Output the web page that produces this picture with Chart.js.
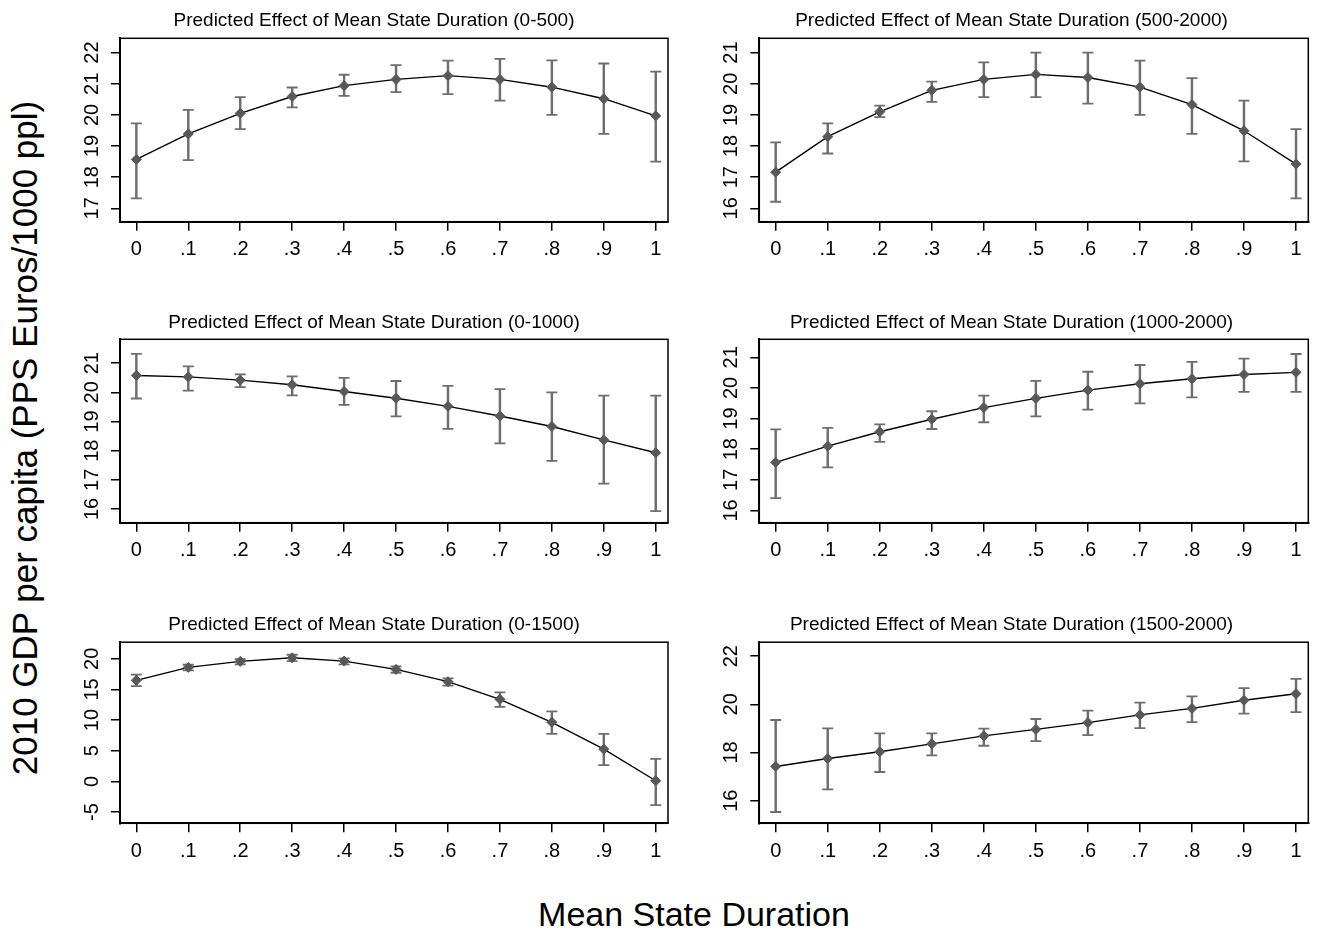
<!DOCTYPE html>
<html><head><meta charset="utf-8">
<script src="https://cdn.jsdelivr.net/npm/chart.js@4.4.1/dist/chart.umd.min.js"></script>
<style>
html,body{margin:0;padding:0;background:#fff;width:1321px;height:933px;overflow:hidden;position:relative;}
canvas{position:absolute;}
.lab{position:absolute;font-family:'Liberation Sans',Arial,sans-serif;color:#000;white-space:nowrap;line-height:1;}
#ylab{left:24px;top:438px;font-size:35px;transform:translate(-50%,-50%) rotate(-90deg);}
#xlab{left:694px;top:897px;font-size:34px;transform:translateX(-50%);}
</style></head><body>
<div class="lab" id="ylab">2010 GDP per capita (PPS Euros/1000 ppl)</div>
<div class="lab" id="xlab">Mean State Duration</div>
<script>
// ---------- data ----------
const xValues = [0, 0.1, 0.2, 0.3, 0.4, 0.5, 0.6, 0.7, 0.8, 0.9, 1];
const xTickLabels = ["0", ".1", ".2", ".3", ".4", ".5", ".6", ".7", ".8", ".9", "1"];

const title1 = "Predicted Effect of Mean State Duration (0-500)";
const est1 = [18.57, 19.39, 20.05, 20.59, 20.94, 21.14, 21.26, 21.14, 20.89, 20.52, 19.97];
const hi1  = [19.73, 20.16, 20.57, 20.88, 21.29, 21.60, 21.74, 21.80, 21.75, 21.65, 21.39];
const lo1  = [17.32, 18.55, 19.54, 20.24, 20.61, 20.73, 20.67, 20.46, 20.00, 19.39, 18.50];
const yTicks1 = [17, 18, 19, 20, 21, 22];
const yRange1 = [16.57, 22.46];

const title2 = "Predicted Effect of Mean State Duration (500-2000)";
const est2 = [17.16, 18.30, 19.10, 19.79, 20.14, 20.30, 20.20, 19.89, 19.33, 18.49, 17.42];
const hi2  = [18.12, 18.73, 19.30, 20.07, 20.69, 21.00, 21.00, 20.74, 20.18, 19.46, 18.54];
const lo2  = [16.21, 17.76, 18.93, 19.42, 19.57, 19.57, 19.36, 19.00, 18.39, 17.51, 16.32];
const yTicks2 = [16, 17, 18, 19, 20, 21];
const yRange2 = [15.57, 21.46];

const title3 = "Predicted Effect of Mean State Duration (0-1000)";
const est3 = [20.58, 20.53, 20.42, 20.26, 20.03, 19.80, 19.52, 19.19, 18.83, 18.37, 17.93];
const hi3  = [21.32, 20.89, 20.62, 20.55, 20.50, 20.39, 20.22, 20.11, 20.00, 19.89, 19.89];
const lo3  = [19.79, 20.06, 20.18, 19.90, 19.57, 19.18, 18.75, 18.25, 17.65, 16.87, 15.93];
const yTicks3 = [16, 17, 18, 19, 20, 21];
const yRange3 = [15.53, 21.82];

const title4 = "Predicted Effect of Mean State Duration (1000-2000)";
const est4 = [17.57, 18.10, 18.57, 18.98, 19.36, 19.66, 19.93, 20.14, 20.30, 20.44, 20.51];
const hi4  = [18.65, 18.70, 18.81, 19.24, 19.75, 20.23, 20.53, 20.75, 20.85, 20.96, 21.11];
const lo4  = [16.40, 17.41, 18.24, 18.66, 18.88, 19.07, 19.29, 19.50, 19.69, 19.87, 19.87];
const yTicks4 = [16, 17, 18, 19, 20, 21];
const yRange4 = [15.60, 21.59];

const title5 = "Predicted Effect of Mean State Duration (0-1500)";
const est5 = [16.48, 18.59, 19.57, 20.16, 19.62, 18.26, 16.26, 13.38, 9.64, 5.25, 0.10];
const hi5  = [17.40, 19.02, 19.95, 20.65, 20.05, 18.75, 16.80, 14.52, 11.43, 7.74, 3.68];
const lo5  = [15.55, 18.10, 19.08, 19.62, 19.08, 17.72, 15.61, 12.14, 7.74, 2.65, -3.86];
const yTicks5 = [-5, 0, 5, 10, 15, 20];
const yRange5 = [-6.84, 22.70];

const title6 = "Predicted Effect of Mean State Duration (1500-2000)";
const est6 = [17.42, 17.75, 18.03, 18.36, 18.69, 18.96, 19.24, 19.56, 19.83, 20.17, 20.44];
const hi6  = [19.35, 19.00, 18.79, 18.79, 18.99, 19.39, 19.74, 20.07, 20.33, 20.67, 21.06];
const lo6  = [15.53, 16.47, 17.19, 17.88, 18.28, 18.47, 18.72, 19.01, 19.26, 19.61, 19.68];
const yTicks6 = [16, 18, 20, 22];
const yRange6 = [15.06, 22.58];

// ---------- layout / style ----------
const FONT = "'Liberation Sans', Arial, sans-serif";
const TITLE_SIZE = 19;
const TICK_SIZE = 20;
const X_AXIS_H = 45;
const X_MIN = -0.0315, X_MAX = 1.0236;
const MARK = '#585858', CI = '#6e6e6e';

const cols = [
  {canvasLeft: 70,  width: 608, padLeft: 10,   axisWidth: 40,   padRight: 10},
  {canvasLeft: 700, width: 619, padLeft: 14.7, axisWidth: 44.6, padRight: 10.7}
];
const rows = [
  {titleMid: 20.7,  top: 38.3,  bottom: 221.7},
  {titleMid: 322.5, top: 339.3, bottom: 522.7},
  {titleMid: 625,   top: 642.2, bottom: 823.3}
];

const panels = [
  {title: title1, est: est1, lo: lo1, hi: hi1, yTicks: yTicks1, yRange: yRange1},
  {title: title2, est: est2, lo: lo2, hi: hi2, yTicks: yTicks2, yRange: yRange2},
  {title: title3, est: est3, lo: lo3, hi: hi3, yTicks: yTicks3, yRange: yRange3},
  {title: title4, est: est4, lo: lo4, hi: hi4, yTicks: yTicks4, yRange: yRange4},
  {title: title5, est: est5, lo: lo5, hi: hi5, yTicks: yTicks5, yRange: yRange5},
  {title: title6, est: est6, lo: lo6, hi: hi6, yTicks: yTicks6, yRange: yRange6}
];

const boxPlugin = {
  id: 'frameBox',
  afterDraw(chart) {
    const a = chart.chartArea, ctx = chart.ctx;
    ctx.save();
    ctx.strokeStyle = '#000';
    ctx.lineWidth = 1.5;
    ctx.strokeRect(a.left, a.top, a.right - a.left, a.bottom - a.top);
    ctx.restore();
  }
};

panels.forEach((p, i) => {
  const col = cols[i % 2], row = rows[Math.floor(i / 2)];
  const top = Math.round(row.titleMid - 20);
  const titleLH = TITLE_SIZE * 1.2;
  const titlePadTop = row.titleMid - top - titleLH / 2;
  const titlePadBottom = row.top - top - titlePadTop - titleLH;
  const height = Math.ceil(row.bottom + X_AXIS_H - top + 2);
  const padBottom = height - X_AXIS_H - (row.bottom - top);

  const cv = document.createElement('canvas');
  cv.width = col.width; cv.height = height;
  cv.style.left = col.canvasLeft + 'px';
  cv.style.top = top + 'px';
  cv.style.width = col.width + 'px';
  cv.style.height = height + 'px';
  document.body.appendChild(cv);

  const gridOpts = {display: true, offset: false, drawOnChartArea: false, drawTicks: true, tickLength: 9, color: '#000', lineWidth: 1.5};
  const borderOpts = {display: true, color: '#000', width: 2};

  new Chart(cv.getContext('2d'), {
    type: 'line',
    data: {
      datasets: [
        {
          type: 'line', order: 0,
          data: xValues.map((x, k) => ({x: x, y: p.est[k]})),
          borderColor: '#000', borderWidth: 1.4, tension: 0,
          pointStyle: 'rectRot', pointRadius: 5, pointBorderWidth: 1,
          pointBackgroundColor: MARK, pointBorderColor: MARK
        },
        {
          type: 'line', order: 1, showLine: false,
          data: xValues.flatMap((x, k) => [{x: x, y: p.lo[k]}, {x: x, y: p.hi[k]}]),
          pointStyle: 'line', pointRadius: 5.5, pointBorderWidth: 1.8,
          pointBorderColor: CI, pointBackgroundColor: CI
        },
        {
          type: 'bar', order: 2,
          data: xValues.map((x, k) => ({x: x, y: [p.lo[k], p.hi[k]]})),
          backgroundColor: CI, borderWidth: 0, barThickness: 1.8
        }
      ]
    },
    options: {
      responsive: false, animation: false, devicePixelRatio: 1, events: [],
      layout: {padding: {left: col.padLeft, right: col.padRight, top: 0, bottom: padBottom}},
      plugins: {
        legend: {display: false},
        tooltip: {enabled: false},
        title: {
          display: true, text: p.title, color: '#000',
          font: {family: FONT, size: TITLE_SIZE, weight: 'normal'},
          padding: {top: titlePadTop, bottom: titlePadBottom}
        }
      },
      scales: {
        x: {
          type: 'linear', min: X_MIN, max: X_MAX, offset: false,
          afterBuildTicks: s => { s.ticks = xValues.map(v => ({value: v})); },
          afterFit: s => { s.height = X_AXIS_H; s.paddingLeft = 0; s.paddingRight = 0; },
          ticks: {
            callback: v => xTickLabels[xValues.indexOf(v)],
            color: '#000', font: {family: FONT, size: TICK_SIZE},
            padding: 7, minRotation: 0, maxRotation: 0, autoSkip: false
          },
          grid: gridOpts, border: borderOpts
        },
        y: {
          type: 'linear', min: p.yRange[0], max: p.yRange[1], offset: false,
          afterBuildTicks: s => { s.ticks = p.yTicks.map(v => ({value: v})); },
          afterFit: s => { s.width = col.axisWidth; s.paddingTop = 0; s.paddingBottom = 0; },
          ticks: {
            callback: v => String(v),
            color: '#000', font: {family: FONT, size: TICK_SIZE},
            padding: 7.5, minRotation: 90, maxRotation: 90, crossAlign: 'center', autoSkip: false
          },
          grid: gridOpts, border: borderOpts
        }
      }
    },
    plugins: [boxPlugin]
  });
});
</script>
</body></html>
